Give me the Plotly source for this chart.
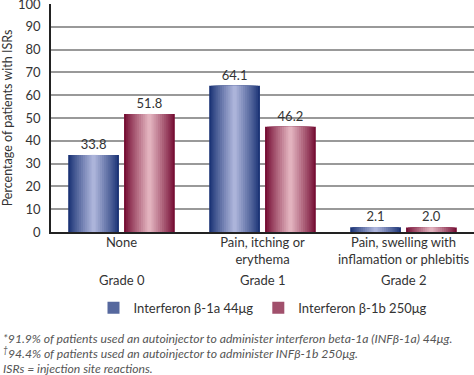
import plotly.graph_objects as go

categories = ["None", "Pain, itching or<br>erythema", "Pain, swelling with<br>inflamation or phlebitis"]
grades = ["Grade 0", "Grade 1", "Grade 2"]
series_a_name = "Interferon β-1a 44μg"
series_b_name = "Interferon β-1b 250μg"
series_a = [33.8, 64.1, 2.1]
series_b = [51.8, 46.2, 2.0]
footnotes = [
    "*91.9% of patients used an autoinjector to administer interferon beta-1a (INFβ-1a) 44μg.",
    "<sup>†</sup>94.4% of patients used an autoinjector to administer INFβ-1b 250μg.",
    "ISRs = injection site reactions.",
]

xs = list(range(len(categories)))
FONT = "Lato, Open Sans, sans-serif"


def mix(c1, c2, t):
    return "rgb(%d,%d,%d)" % tuple(round(a + (b - a) * t) for a, b in zip(c1, c2))


fig = go.Figure()
N = 12
BW = 0.36
specs = [
    (series_a, series_a_name, (28, 52, 118), (172, 180, 218), -0.198),
    (series_b, series_b_name, (118, 14, 52), (226, 178, 190), 0.198),
]
for vals, name, dark, light, center in specs:
    for k in range(N):
        w = BW * (1 - k / N)
        t = (k / (N - 1)) ** 0.9
        fig.add_trace(go.Bar(
            x=xs, y=vals, width=w, offset=center - w / 2,
            marker=dict(color=mix(dark, light, t), line=dict(width=0)),
            name=name, showlegend=(k == 4), legendgroup=name,
            text=[f"{v:.1f}" for v in vals] if k == 0 else None,
            textposition="outside" if k == 0 else None,
            textfont=dict(size=13, color="#333", family=FONT),
            cliponaxis=False, hoverinfo="skip" if k else None,
        ))

for x, g in zip(xs, grades):
    fig.add_annotation(x=x, xref="x", y=-0.21, yref="paper", text=g, showarrow=False,
                       font=dict(size=13, color="#333", family=FONT), yanchor="middle")

for i, fn in enumerate(footnotes):
    fig.add_annotation(x=-0.118, xref="paper", y=-0.465 - 0.066 * i, yref="paper", text="<i>" + fn + "</i>",
                       showarrow=False, xanchor="left", yanchor="middle",
                       font=dict(size=12.2, color="#555", family=FONT))

fig.update_layout(
    width=474, height=375,
    margin=dict(l=51, r=0, t=4, b=143, autoexpand=False),
    barmode="overlay",
    plot_bgcolor="white", paper_bgcolor="white",
    font=dict(family=FONT, color="#333", size=13),
    legend=dict(orientation="h", x=0.5, xanchor="center", y=-0.333, yanchor="middle",
                font=dict(size=13, color="#333"), itemwidth=30, traceorder="normal"),
    xaxis=dict(range=[-0.5, 2.5], tickmode="array", tickvals=xs, ticktext=categories,
               showline=True, linecolor="#222", linewidth=1.5, ticks="", showgrid=False,
               automargin=False,
               ticklabelstandoff=-2, tickfont=dict(size=13, color="#333")),
    yaxis=dict(range=[0, 100], dtick=10, showgrid=True, gridcolor="#999", gridwidth=1.5,
               showline=True, linecolor="#222", linewidth=1.5, ticks="", ticklabelstandoff=6,
               ticklabeloverflow="allow", automargin=False,
               zeroline=False, tickfont=dict(size=13, color="#333"),
               title=dict(text="Percentage of patients with ISRs", font=dict(size=12.5, color="#333"), standoff=6)),
    showlegend=True,
)

fig.write_html("out.html", config={"displayModeBar": False},
               post_script="document.body.style.margin='0';")
